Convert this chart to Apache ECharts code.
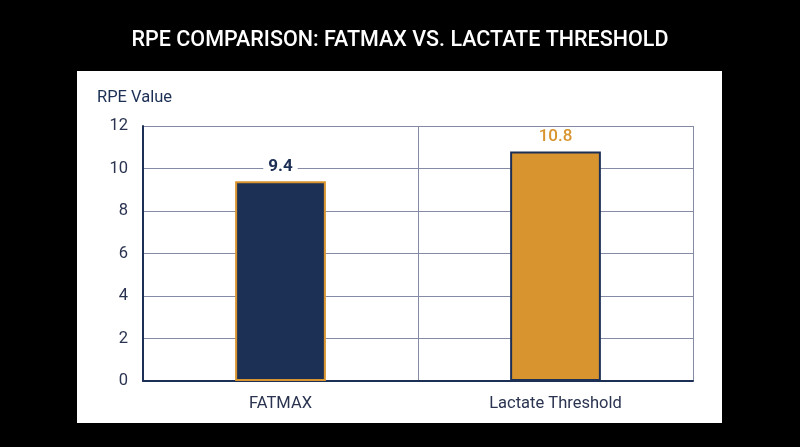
<html lang="en">
<head>
    <meta charset="UTF-8">
    <script src="https://cdn.jsdelivr.net/npm/echarts@6/dist/echarts.min.js"></script>
    <title>RPE Comparison</title>
    <style>
      html, body { margin: 0; padding: 0; background: #000; }
    </style>
</head>
<body>

<div id="main" style="width: 800px;height:447px;"></div>

<script>
  // data
  var categories = ['FATMAX', 'Lactate Threshold'];
  var rpeValues = [9.4, 10.8];
  var barColors = ['#1c2f55', '#d8952f'];
  var barBorders = ['#d8952f', '#1c2f55'];
  var labelColors = ['#1c2f55', '#d8952f'];

  var navy = '#1c2f55';
  var gridGrey = '#858ba4';

  var myChart = echarts.init(document.getElementById('main'));

  var option = {
      backgroundColor: '#000',
      title: {
          text: 'RPE COMPARISON: FATMAX VS. LACTATE THRESHOLD',
          left: 'center',
          top: 25,
          textStyle: {
              color: '#fff',
              fontFamily: 'Roboto',
              fontSize: 21.5,
              fontWeight: 500
          }
      },
      graphic: [{
          type: 'rect',
          z: -10,
          shape: { x: 77, y: 71, width: 645, height: 352 },
          style: { fill: '#fff' }
      }],
      grid: {
          left: 143,
          right: 107,
          top: 126,
          bottom: 66
      },
      xAxis: {
          type: 'category',
          data: categories,
          axisLine: { lineStyle: { color: navy, width: 2 } },
          axisTick: { show: false },
          axisLabel: {
              color: '#2a3350',
              fontFamily: 'Roboto',
              fontSize: 16.5,
              margin: 14
          },
          splitLine: { show: true, lineStyle: { color: gridGrey, width: 1 } }
      },
      yAxis: {
          type: 'value',
          min: 0,
          max: 12,
          interval: 2,
          name: 'RPE Value',
          nameLocation: 'end',
          nameGap: 20,
          nameTextStyle: {
              color: navy,
              fontFamily: 'Roboto',
              fontSize: 16.5,
              align: 'left',
              padding: [0, 0, 0, -46]
          },
          axisLine: { show: true, lineStyle: { color: navy, width: 2 } },
          axisTick: { show: false },
          axisLabel: {
              color: '#2a3350',
              fontFamily: 'Roboto',
              fontSize: 16.5,
              margin: 15
          },
          splitLine: { lineStyle: { color: gridGrey, width: 1 } }
      },
      series: [{
          type: 'bar',
          barWidth: '33%',
          data: rpeValues.map(function (v, i) {
              return {
                  value: v,
                  itemStyle: {
                      color: barColors[i],
                      borderColor: barBorders[i],
                      borderWidth: 2
                  },
                  label: {
                      color: labelColors[i],
                      fontWeight: i === 0 ? 'bold' : 500
                  }
              };
          }),
          label: {
              show: true,
              position: 'top',
              distance: 6,
              fontFamily: 'Roboto',
              fontSize: 17,
              backgroundColor: '#fff',
              padding: [0, 5]
          }
      }]
  };

  myChart.setOption(option);
</script>

</body>
</html>
